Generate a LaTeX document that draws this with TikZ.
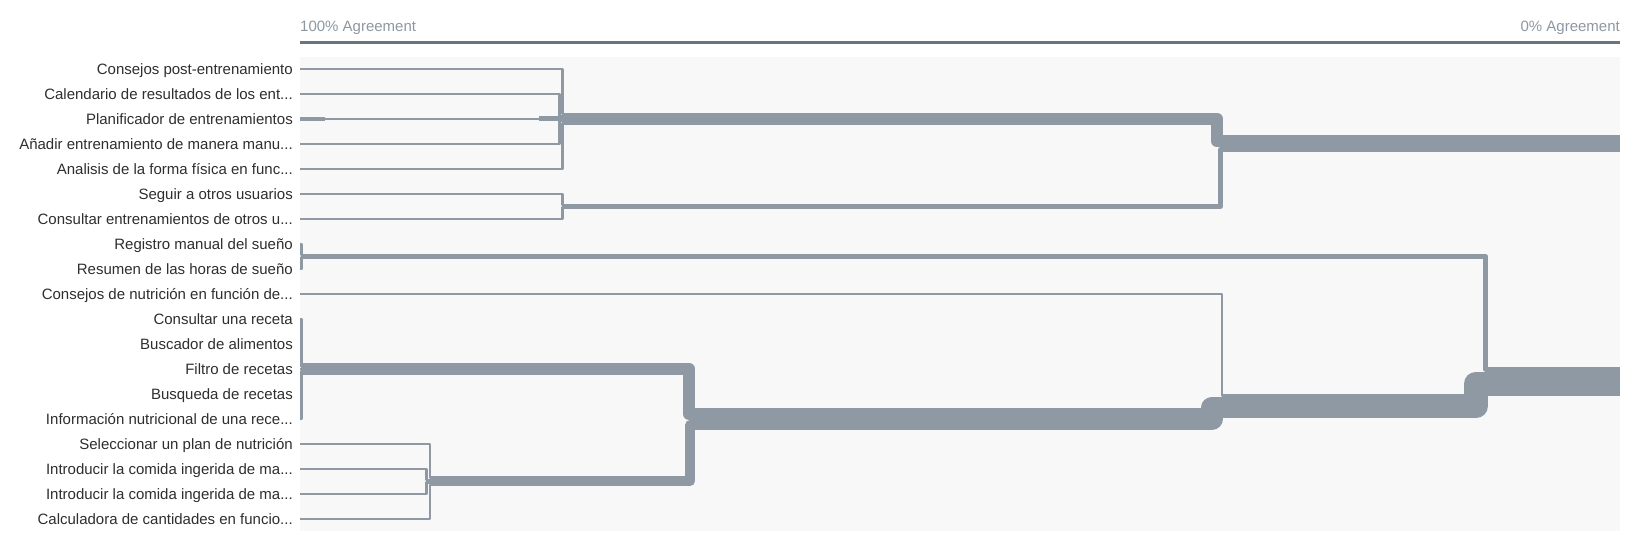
\documentclass[tikz,border=0pt]{standalone}
\usepackage{fontspec}
\setmainfont{Liberation Sans}
\usepackage{xcolor}
\usetikzlibrary{calc}
\definecolor{cLink}{HTML}{8E99A4}
\definecolor{cAxis}{HTML}{69757F}
\definecolor{cAxText}{HTML}{8D97A1}
\definecolor{cText}{HTML}{2E2E2E}
\definecolor{cPanel}{HTML}{F8F8F8}
\newcommand{\ellip}{...}
\tikzset{
  lbl/.style    = {anchor=east, inner sep=0pt, text=cText, text height=10.7pt,
                   text depth=0pt, font=\fontsize{15}{17}\selectfont},
  axlab/.style  = {inner sep=0pt, text=cAxText, font=\fontsize{15}{17}\selectfont},
  axline/.style = {draw=cAxis, line width=3pt},
  panel/.style  = {fill=cPanel, draw=none},
  rib/.style    = {draw=cLink, line join=round},
  leaf/.style   = {rib, line width=2.4pt},
}

\begin{document}
\begin{tikzpicture}[x=1pt, y=-1pt]
  \useasboundingbox (0,0) rectangle (1632,540);
  \fill[panel] (300,57) rectangle (1620,531);

  % agreement scale
  \node[axlab, anchor=base west] (agr100) at (300,31.7) {100\% Agreement};
  \node[axlab, anchor=base east] (agr0)   at (1620,31.7) {0\% Agreement};
  \draw[axline] (300,42.7) -- (1620,42.7);

  % cards
  \foreach \t [count=\i] in {Consejos post-entrenamiento, Calendario de resultados de los ent\ellip,
      Planificador de entrenamientos, Añadir entrenamiento de manera manu\ellip,
      Analisis de la forma física en func\ellip, Seguir a otros usuarios,
      Consultar entrenamientos de otros u\ellip, Registro manual del sueño,
      Resumen de las horas de sueño, Consejos de nutrición en función de\ellip,
      Consultar una receta, Buscador de alimentos, Filtro de recetas,
      Busqueda de recetas, Información nutricional de una rece\ellip,
      Seleccionar un plan de nutrición, Introducir la comida ingerida de ma\ellip,
      Introducir la comida ingerida de ma\ellip, Calculadora de cantidades en funcio\ellip}
    \node[lbl] (r\i) at (293,{69+25*(\i-1)}) {\t};

  % merge points
  \coordinate (jAs)  at (560.5,118.7);
  \coordinate (jA)   at (563.5,118.7);
  \coordinate (jB)   at (563.5,206.2);
  \coordinate (jAB)  at (1223,143.7);
  \coordinate (jS)   at (302.7,256.2);
  \coordinate (jR)   at (302.7,368.7);
  \coordinate (jPs)  at (427.5,481.2);
  \coordinate (jP)   at (431,481.2);
  \coordinate (jRP)  at (695,418.7);
  \coordinate (jN)   at (1223,406.2);
  \coordinate (jRoot) at (1488,381.2);
  \coordinate (endAB)   at (1620,143.7);
  \coordinate (endRoot) at (1620,381.2);

  % single cards into their first group
  \foreach \i/\xv/\ys in {1/562.3/113.9, 2/559.3/116.3, 3/559.3/118.7, 4/559.3/121.1,
      5/562.3/123.5, 6/562.3/205, 7/562.3/207.4, 8/301.5/255, 9/301.5/257.4,
      10/1221.8/395.4, 11/301.5/363.9, 12/301.5/366.3, 13/301.5/368.7,
      14/301.5/371.1, 15/301.5/373.5, 16/429.8/477.6, 17/426.3/480,
      18/426.3/482.4, 19/429.8/484.8}
    \draw[leaf] ([xshift=7pt]r\i.east) -| (\xv,\ys) -- ++(2.2,0);
  \draw[rib, line width=4.8pt] ([xshift=7pt]r3.east) -- ++(25,0);
  \draw[rib, line width=4.8pt] (539,118.7) -- (jAs);

  % groups
  \draw[rib, line width=7.2pt]  (jAs) -- ++(4,0);
  \draw[rib, line width=4.8pt]  (jPs) -- ++(4.5,0);
  \draw[rib, line width=12pt]   (jA) -| (1217,141.3) -- ++(7,0);
  \draw[rib, line width=4.8pt]  (jB) -| (1220.6,149.7) -- ++(3.4,0);
  \draw[rib, line width=16.8pt] (jAB) -- (endAB);
  \draw[rib, line width=12pt]   (jR) -| (689,413.9) -- ++(7,0);
  \draw[rib, line width=9.6pt]  (jP) -| (690.2,424.7) -- ++(5.8,0);
  \draw[rib, line width=21.6pt] (jRP) -| (1212.2,407.4) -- ++(11.8,0);
  \draw[rib, line width=4.8pt]  (jS) -| (1485.6,369.2) -- ++(3.4,0);
  \draw[rib, line width=24pt]   (jN) -| (1476,383.6) -- ++(13,0);
  \draw[rib, line width=28.8pt] (jRoot) -- (endRoot);
\end{tikzpicture}
\end{document}
